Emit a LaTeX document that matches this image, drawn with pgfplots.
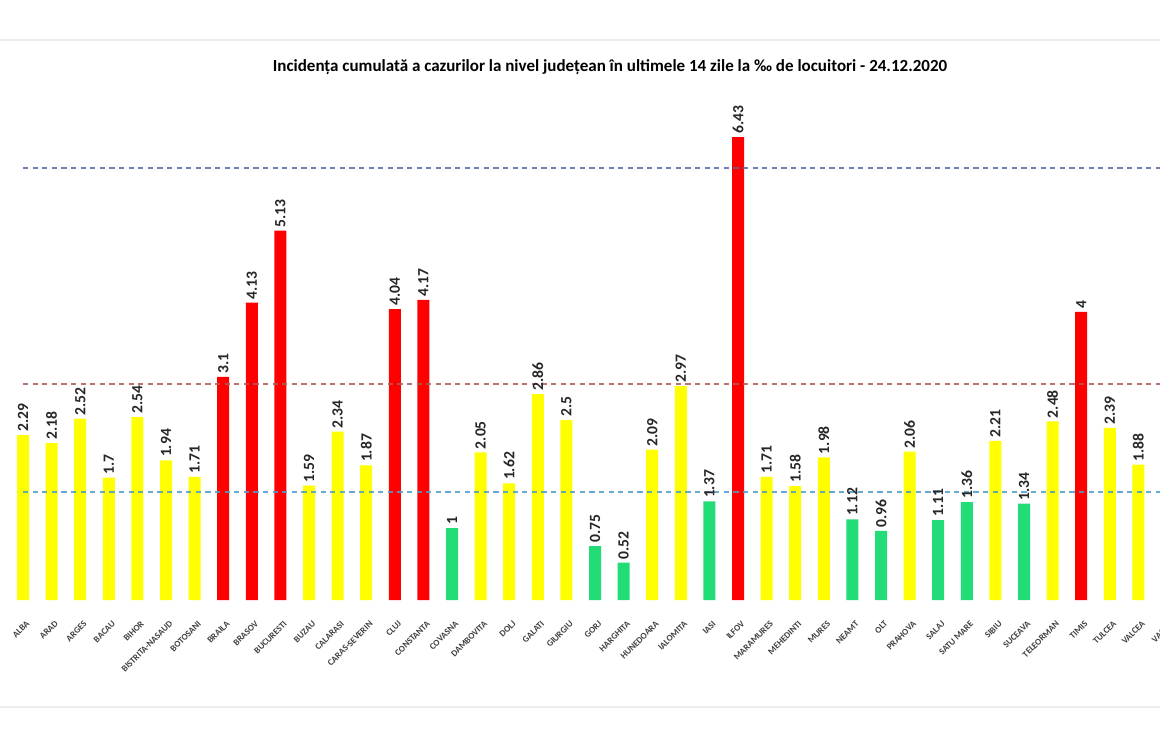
\documentclass[border=0pt]{standalone}
\usepackage{pgfplots}
\pgfplotsset{compat=1.18}
\usepackage{fontspec}
\setmainfont{Carlito}
\definecolor{barY}{HTML}{FFFF00}
\definecolor{barR}{HTML}{FF0000}
\definecolor{barG}{HTML}{22DD77}
\definecolor{lineHi}{HTML}{5A66A8}
\definecolor{lineMid}{HTML}{B05A5A}
\definecolor{lineLo}{HTML}{4E9CCB}
\tikzset{valstyle/.style={rotate=90, anchor=west, inner sep=1.5pt,
      font=\bfseries\fontsize{7.8}{8}\selectfont, text=black!85}}
\begin{document}
\begin{tikzpicture}[x=1pt,y=1pt]
\path[use as bounding box, clip] (0,0) rectangle (580,375);
\fill[white] (0,0) rectangle (580,375);
\draw[black!7, line width=1pt] (0,355) -- (580,355);
\draw[black!7, line width=1pt] (0,21.5) -- (580,21.5);
\node[font=\bfseries\fontsize{8.5}{9}\selectfont] at (305,341.5)
  {Incidența cumulată a cazurilor la nivel județean în ultimele 14 zile la ‰ de locuitori - 24.12.2020};
\begin{axis}[
    at={(11.5pt,75pt)}, anchor=origin,
    x=14.3pt, y=36pt,
    xmin=-0.8, xmax=41, ymin=0, ymax=7,
    axis line style={draw=none},
    tick style={draw=none},
    ytick=\empty,
    xtick={0,...,40},
    xticklabels={ALBA,ARAD,ARGES,BACAU,BIHOR,BISTRITA-NASAUD,BOTOSANI,BRAILA,BRASOV,BUCURESTI,BUZAU,CALARASI,CARAS-SEVERIN,CLUJ,CONSTANTA,COVASNA,DAMBOVITA,DOLJ,GALATI,GIURGIU,GORJ,HARGHITA,HUNEDOARA,IALOMITA,IASI,ILFOV,MARAMURES,MEHEDINTI,MURES,NEAMT,OLT,PRAHOVA,SALAJ,SATU MARE,SIBIU,SUCEAVA,TELEORMAN,TIMIS,TULCEA,VALCEA,VASLUI},
    xticklabel style={rotate=45, anchor=north east, inner sep=0pt, xshift=-3pt, yshift=-5pt,
      font=\bfseries\fontsize{4.5}{5}\selectfont, text=black!75},
    clip=false,
    ybar, bar width=6pt, bar shift=0pt,
    /pgf/number format/assume math mode=true,
]
% yellow: between 1.5 and 3
\addplot[draw=none, fill=barY, nodes near coords, nodes near coords style={valstyle}] coordinates {
  (0,2.29) (1,2.18) (2,2.52) (3,1.7) (4,2.54) (5,1.94) (6,1.71)
  (10,1.59) (11,2.34) (12,1.87) (16,2.05) (17,1.62) (18,2.86) (19,2.5)
  (22,2.09) (23,2.97) (26,1.71) (27,1.58) (28,1.98) (31,2.06) (34,2.21)
  (36,2.48) (38,2.39) (39,1.88)};
% red: above 3
\addplot[draw=none, fill=barR, nodes near coords, nodes near coords style={valstyle}] coordinates {
  (7,3.1) (8,4.13) (9,5.13) (13,4.04) (14,4.17) (25,6.43) (37,4)};
% green: below 1.5
\addplot[draw=none, fill=barG, nodes near coords, nodes near coords style={valstyle}] coordinates {
  (15,1) (20,0.75) (21,0.52) (24,1.37) (29,1.12) (30,0.96) (32,1.11)
  (33,1.36) (35,1.34)};
% thresholds
\addplot[sharp plot, no marks, lineHi, opacity=0.85, line width=1pt,
  dash pattern=on 2.6pt off 2.2pt] coordinates {(0,6) (41,6)};
\addplot[sharp plot, no marks, lineMid, opacity=0.85, line width=1pt,
  dash pattern=on 2.6pt off 2.2pt] coordinates {(0,3) (41,3)};
\addplot[sharp plot, no marks, lineLo, opacity=0.85, line width=1pt,
  dash pattern=on 2.6pt off 2.2pt] coordinates {(0,1.5) (41,1.5)};
\end{axis}
\end{tikzpicture}
\end{document}
